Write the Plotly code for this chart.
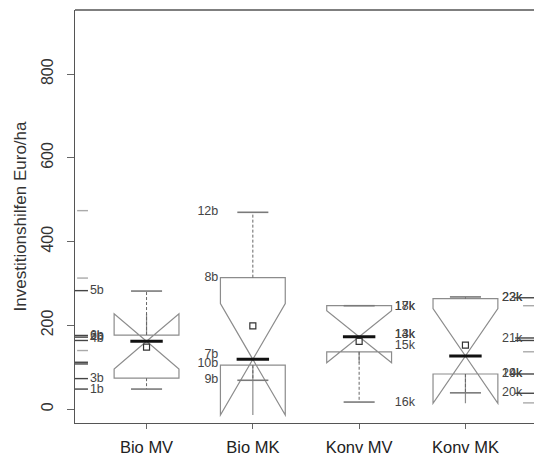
import plotly.graph_objects as go

# ---- data ----
categories = ["Bio MV", "Bio MK", "Konv MV", "Konv MK"]
lower_whisker = [48, 69, 17, 39]
q1 = [74, 105, 137, 84]
median = [162, 119, 173, 127]
q3 = [177, 314, 247, 264]
upper_whisker = [282, 470, 247, 268]
notch_half = [66, 133, 62, 113]
means = [148, 199, 162, 153]

bio_mv_labels = ["5b", "6b", "2b", "4b", "3b", "1b"]
bio_mv_values = [283, 175, 172, 169, 73, 46]
bio_mk_labels = ["12b", "8b", "7b", "10b", "9b"]
bio_mk_values = [470, 314, 130, 107, 69]
konv_mv_labels = ["17k", "18k", "13k", "14k", "15k", "16k"]
konv_mv_values = [245, 245, 178, 178, 150, 16]
konv_mk_labels = ["22k", "23k", "21k", "19k", "24k", "20k"]
konv_mk_values = [266, 266, 169, 84, 84, 38]

left_rug_dark = [283, 176, 172, 164, 112, 108, 73, 48]
left_rug_light = [474, 313, 140]
right_rug_dark = [266, 170, 164, 84, 38]
right_rug_light = [247, 137, 15]

y_ticks = [0, 200, 400, 600, 800]
y_title = "Investitionshilfen Euro/ha"

# ---- style constants ----
FONT = "Liberation Sans, Arial, sans-serif"
BOX_W = 0.61
HALF = BOX_W / 2
CAP = 0.146
X_RANGE = [-0.673, 3.645]
Y_RANGE = [-33, 953]

xpos = list(range(len(categories)))

fig = go.Figure()

fig.add_trace(go.Box(
    x=xpos, q1=q1, median=median, q3=q3,
    lowerfence=q1, upperfence=q3, notchspan=notch_half,
    notched=True, notchwidth=0.5, width=BOX_W, whiskerwidth=0,
    fillcolor="rgba(0,0,0,0)", line=dict(color="#8c8c8c", width=1.2),
    boxpoints=False, showlegend=False, hoverinfo="skip"))


def segs(xs0, xs1, ys0, ys1):
    X, Y = [], []
    for a, b, c, d in zip(xs0, xs1, ys0, ys1):
        X += [a, b, None]
        Y += [c, d, None]
    return X, Y


# whiskers (dashed)
wx, wy = segs(xpos + xpos, xpos + xpos, q3 + q1, upper_whisker + lower_whisker)
fig.add_trace(go.Scatter(x=wx, y=wy, mode="lines",
                         line=dict(color="#666", width=1, dash="3px,2px"),
                         showlegend=False, hoverinfo="skip"))
# caps
cx, cy = segs([p - CAP for p in xpos] * 2, [p + CAP for p in xpos] * 2,
              upper_whisker + lower_whisker, upper_whisker + lower_whisker)
fig.add_trace(go.Scatter(x=cx, y=cy, mode="lines",
                         line=dict(color="#7a7a7a", width=1.6),
                         showlegend=False, hoverinfo="skip"))
# medians
mx, my = segs([p - HALF / 2 for p in xpos], [p + HALF / 2 for p in xpos], median, median)
fig.add_trace(go.Scatter(x=mx, y=my, mode="lines",
                         line=dict(color="#111", width=3),
                         showlegend=False, hoverinfo="skip"))
# means
fig.add_trace(go.Scatter(x=xpos, y=means, mode="markers",
                         marker=dict(symbol="square-open", size=6, color="#333",
                                     line=dict(width=1.2)),
                         showlegend=False, hoverinfo="skip"))

# rugs
L0, L1 = X_RANGE[0], X_RANGE[0] + 0.122
for vals, col, x0 in [(left_rug_dark, "#444", L0), (left_rug_light, "#aaa", L0 + 0.02)]:
    rx, ry = segs([x0] * len(vals), [L1] * len(vals), vals, vals)
    fig.add_trace(go.Scatter(x=rx, y=ry, mode="lines", line=dict(color=col, width=1.4),
                             showlegend=False, hoverinfo="skip", cliponaxis=False))
R1 = X_RANGE[1]
for vals, col, x0 in [(right_rug_dark, "#444", 3.467), (right_rug_light, "#aaa", 3.542)]:
    rx, ry = segs([x0] * len(vals), [R1] * len(vals), vals, vals)
    fig.add_trace(go.Scatter(x=rx, y=ry, mode="lines", line=dict(color=col, width=1.4),
                             showlegend=False, hoverinfo="skip"))

# point labels
lab_font = dict(family=FONT, size=12.5, color="#444")
label_sets = [
    (bio_mv_labels, bio_mv_values, X_RANGE[0] + 0.14, "middle right"),
    (bio_mk_labels, bio_mk_values, 1 - HALF - 0.02, "middle left"),
    (konv_mv_labels, konv_mv_values, 2 + HALF + 0.03, "middle right"),
    (konv_mk_labels, konv_mk_values, 3 + HALF + 0.04, "middle right"),
]
for labs, vals, xx, pos in label_sets:
    fig.add_trace(go.Scatter(x=[xx] * len(labs), y=vals, mode="text", text=labs,
                             textposition=pos, textfont=lab_font,
                             showlegend=False, hoverinfo="skip", cliponaxis=False))

fig.add_shape(type="line", xref="paper", yref="paper", x0=0, x1=1, y0=1, y1=1,
              line=dict(color="#555", width=1.3))

fig.update_layout(
    width=534, height=458,
    margin=dict(l=75, r=0, t=10, b=35),
    paper_bgcolor="white", plot_bgcolor="white",
    font=dict(family=FONT, color="#222"),
    xaxis=dict(range=X_RANGE, tickvals=xpos, ticktext=categories,
               showgrid=False, zeroline=False, showline=True, linecolor="#555", linewidth=1.3,
               ticks="outside", ticklen=5, tickcolor="#666",
               tickfont=dict(size=16.5, color="#222"), ticklabelstandoff=4),
    yaxis=dict(range=Y_RANGE, tickvals=y_ticks,
               showgrid=False, zeroline=False, showline=True, linecolor="#555", linewidth=1.3,
               ticks="outside", ticklen=7, tickcolor="#666", tickangle=-90,
               tickfont=dict(size=16, color="#333"), ticklabelstandoff=7,
               title=dict(text=y_title, font=dict(size=17, color="#333"), standoff=8)),
)

fig.write_html("out.html", config={"displayModeBar": False},
               post_script="document.body.style.margin='0';")
